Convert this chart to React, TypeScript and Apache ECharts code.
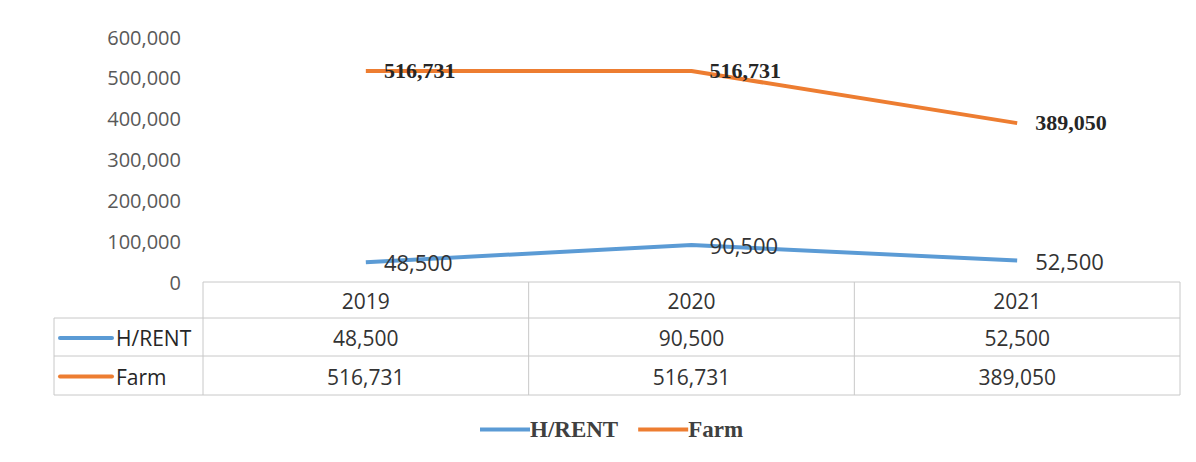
import React, { useEffect, useRef } from "react";
import * as echarts from "echarts";

const categories = ["2019", "2020", "2021"];
const seriesNames = ["H/RENT", "Farm"];
const hrentValues = [48500, 90500, 52500];
const farmValues = [516731, 516731, 389050];
const yTicks = [0, 100000, 200000, 300000, 400000, 500000, 600000];

const COLORS = ["#5B9BD5", "#ED7D31"];
const SANS = "'Open Sans', 'Liberation Sans', sans-serif";
const SERIF = "'Liberation Serif', 'DejaVu Serif', serif";

const fmt = (v: number) => v.toLocaleString("en-US");

export default function App() {
  const ref = useRef<HTMLDivElement>(null);

  useEffect(() => {
    if (!ref.current) return;
    const chart = echarts.init(ref.current, null, { renderer: "svg" });
    const gridLeft = 203;
    const gridRight = 16;
    const gridTop = 37;
    const gridBottom = 180;
    const values = [hrentValues, farmValues];

    chart.setOption({
      animation: false,
      backgroundColor: "#ffffff",
      grid: { left: gridLeft, right: gridRight, top: gridTop, bottom: gridBottom, containLabel: false },
      xAxis: {
        type: "category",
        data: categories,
        boundaryGap: true,
        axisLine: { show: false },
        axisTick: { show: false },
        axisLabel: { show: false },
        splitLine: { show: false },
      },
      yAxis: {
        type: "value",
        min: yTicks[0],
        max: yTicks[yTicks.length - 1],
        interval: yTicks[1] - yTicks[0],
        axisLine: { show: false },
        axisTick: { show: false },
        splitLine: { show: false },
        axisLabel: {
          formatter: (v: number) => fmt(v),
          color: "#595959",
          fontFamily: SANS,
          fontSize: 20,
          margin: 22,
        },
      },
      legend: {
        left: 475,
        top: 413,
        icon: "rect",
        itemWidth: 50,
        itemHeight: 4,
        itemGap: 20,
        data: seriesNames,
        textStyle: { fontFamily: SERIF, fontWeight: "bold", fontSize: 23, color: "#404040", padding: [0, 0, 0, -5] },
      },
      series: [
        {
          name: seriesNames[0],
          type: "line",
          data: values[0],
          symbol: "circle",
          symbolSize: 0.1,
          showSymbol: true,
          lineStyle: { color: COLORS[0], width: 4 },
          itemStyle: { color: COLORS[0] },
          label: {
            show: true,
            position: "right",
            distance: 18,
            offset: [0, 0],
            formatter: (p: any) => fmt(p.value),
            fontFamily: SANS,
            fontSize: 22,
            color: "#333333",
          },
        },
        {
          name: seriesNames[1],
          type: "line",
          data: values[1],
          symbol: "circle",
          symbolSize: 0.1,
          showSymbol: true,
          lineStyle: { color: COLORS[1], width: 4 },
          itemStyle: { color: COLORS[1] },
          label: {
            show: true,
            position: "right",
            distance: 18,
            offset: [0, -1],
            formatter: (p: any) => fmt(p.value),
            fontFamily: SERIF,
            fontWeight: "bold",
            fontSize: 22,
            color: "#262626",
          },
        },
      ],
    });

    // Data table below the plot
    const plotRight = 1196 - gridRight;
    const centers = categories.map((c) => chart.convertToPixel({ xAxisIndex: 0 }, c) as number);
    const band = (plotRight - gridLeft) / categories.length;
    const rowTop = 282;
    const rowLines = [rowTop, 318, 356, 395];
    const headerLeft = 54;
    const border = "#c8c8c8";
    const els: any[] = [];
    els.push({ type: "line", shape: { x1: gridLeft, y1: rowLines[0], x2: plotRight, y2: rowLines[0] }, style: { stroke: border, lineWidth: 1 } });
    for (let i = 1; i < rowLines.length; i++) {
      els.push({ type: "line", shape: { x1: headerLeft, y1: rowLines[i], x2: plotRight, y2: rowLines[i] }, style: { stroke: border, lineWidth: 1 } });
    }
    for (let i = 0; i <= categories.length; i++) {
      const x = gridLeft + band * i;
      els.push({ type: "line", shape: { x1: x, y1: rowLines[0], x2: x, y2: rowLines[3] }, style: { stroke: border, lineWidth: 1 } });
    }
    els.push({ type: "line", shape: { x1: headerLeft, y1: rowLines[1], x2: headerLeft, y2: rowLines[3] }, style: { stroke: border, lineWidth: 1 } });

    categories.forEach((c, i) => {
      els.push({
        type: "text",
        x: centers[i],
        y: (rowLines[0] + rowLines[1]) / 2 + 1,
        style: { text: c, fontFamily: SANS, fontSize: 21, fill: "#333333", align: "center", verticalAlign: "middle" },
      });
    });
    seriesNames.forEach((name, r) => {
      const yc = (rowLines[r + 1] + rowLines[r + 2]) / 2 + 1;
      els.push({ type: "line", shape: { x1: 60, y1: yc, x2: 112, y2: yc }, style: { stroke: COLORS[r], lineWidth: 4, lineCap: "round" } });
      els.push({
        type: "text",
        x: 116,
        y: yc,
        style: { text: name, fontFamily: SANS, fontSize: 21, fill: "#262626", align: "left", verticalAlign: "middle" },
      });
      values[r].forEach((v, i) => {
        els.push({
          type: "text",
          x: centers[i],
          y: yc,
          style: { text: fmt(v), fontFamily: SANS, fontSize: 21, fill: "#333333", align: "center", verticalAlign: "middle" },
        });
      });
    });

    chart.setOption({ graphic: { elements: els } });

    return () => chart.dispose();
  }, []);

  return (
    <div
      ref={ref}
      style={{ position: "fixed", left: 0, top: 0, width: 1196, height: 462, background: "#ffffff" }}
    />
  );
}
